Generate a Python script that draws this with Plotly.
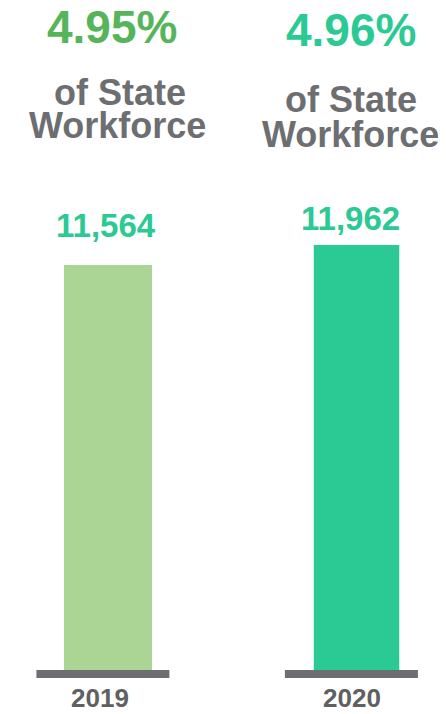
import plotly.graph_objects as go

# ---- data ----
years = ["2019", "2020"]
employees = [11564, 11962]
value_labels = ["11,564", "11,962"]
pct_labels = ["4.95%", "4.96%"]
sub_line1 = ["of State", "of State"]
sub_line2 = ["Workforce", "Workforce"]

# ---- styles ----
bar_colors = ["#abd595", "#2bc993"]
pct_colors = ["#56b45a", "#2bc993"]
value_color = "#2bc993"
gray_text = "#6d6e71"
year_text = "#5f6062"
base_gray = "#6d6e71"
FONT = "Liberation Sans, Arial, sans-serif"

OFF = 8                  # page body margin of the html page
W, H = 446 - OFF, 714 - OFF
MB = 44
PH = H - MB  # plot height in px

def py(p):
    """page pixel-from-top -> paper y"""
    return 1 - (p - OFF) / PH

fig = go.Figure()
fig.add_trace(go.Bar(
    x=years, y=employees,
    width=[0.354, 0.344],
    marker=dict(color=bar_colors, line=dict(width=0)),
    hoverinfo="skip",
))

# baseline slabs under each bar
for i, _ in enumerate(years):
    fig.add_shape(type="rect", xref="x", yref="paper",
                  x0=i - 0.288, x1=i + 0.247, y0=py(678), y1=py(670),
                  fillcolor=base_gray, line=dict(width=0), layer="above")

# per-column text: (x shift px, center y px on page)
pct_pos = [(4, 26.5), (-6, 30)]
l1_pos = [(12, 92.5), (-6, 99.5)]
l2_pos = [(9.5, 125.5), (-6, 134.5)]
val_pos = [(-2, 225), (-6, 218.5)]
yr_pos = [(-8.5, 697.5), (-5, 697.5)]

def ann(i, text, pos, size, color):
    fig.add_annotation(xref="x", yref="paper", x=i, xshift=pos[0], y=py(pos[1]),
                       text=f"<b>{text}</b>", showarrow=False,
                       xanchor="center", yanchor="middle",
                       font=dict(family=FONT, size=size, color=color))

for i in range(len(years)):
    ann(i, pct_labels[i], pct_pos[i], 46, pct_colors[i])
    ann(i, sub_line1[i], l1_pos[i], 36, gray_text)
    ann(i, sub_line2[i], l2_pos[i], 36, gray_text)
    ann(i, value_labels[i], val_pos[i], 33, value_color)
    ann(i, years[i], yr_pos[i], 26, year_text)

k = 20 / 398  # px per unit
fig.update_layout(
    width=W, height=H,
    margin=dict(l=0, r=0, t=0, b=MB),
    paper_bgcolor="white", plot_bgcolor="white",
    showlegend=False, hovermode=False,
    xaxis=dict(type="category", range=[-(108 - OFF) / 248.5, 1 + (446 - 356.5) / 248.5],
               visible=False, fixedrange=True),
    yaxis=dict(range=[3504, 3504 + PH / k], visible=False, fixedrange=True),
)

fig.write_html("out.html", config={"displayModeBar": False})
